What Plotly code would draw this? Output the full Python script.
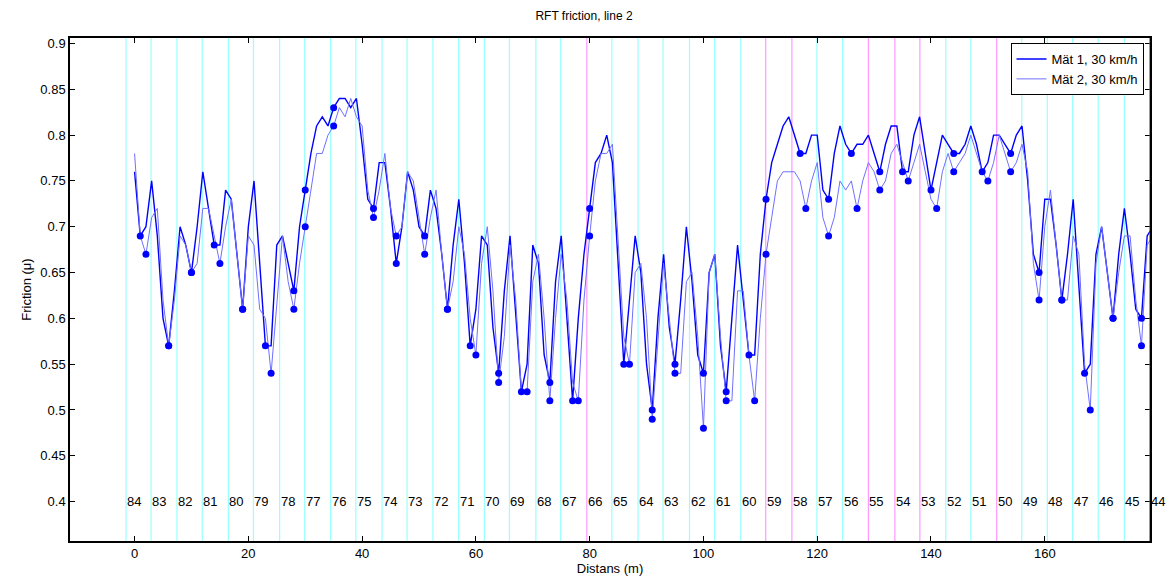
import plotly.graph_objects as go

# friction per metre, 0..179 m
dist = list(range(180))
mat1 = [0.76, 0.69, 0.70, 0.75, 0.69, 0.60, 0.57, 0.63, 0.70, 0.68,
        0.65, 0.70, 0.76, 0.72, 0.68, 0.68, 0.74, 0.73, 0.67, 0.61,
        0.70, 0.75, 0.66, 0.57, 0.57, 0.68, 0.69, 0.66, 0.63, 0.70,
        0.74, 0.78, 0.81, 0.82, 0.81, 0.83, 0.84, 0.84, 0.83, 0.84,
        0.79, 0.73, 0.72, 0.77, 0.77, 0.72, 0.66, 0.70, 0.76, 0.74,
        0.70, 0.69, 0.74, 0.72, 0.67, 0.61, 0.68, 0.73, 0.66, 0.57,
        0.61, 0.69, 0.68, 0.59, 0.54, 0.63, 0.69, 0.60, 0.52, 0.55,
        0.68, 0.66, 0.56, 0.53, 0.64, 0.69, 0.60, 0.51, 0.60, 0.67,
        0.72, 0.77, 0.78, 0.80, 0.77, 0.66, 0.55, 0.62, 0.69, 0.65,
        0.55, 0.50, 0.60, 0.67, 0.59, 0.55, 0.62, 0.70, 0.64, 0.56,
        0.54, 0.65, 0.67, 0.57, 0.52, 0.60, 0.68, 0.62, 0.56, 0.56,
        0.67, 0.73, 0.77, 0.79, 0.81, 0.82, 0.80, 0.78, 0.78, 0.80,
        0.80, 0.74, 0.73, 0.78, 0.81, 0.79, 0.78, 0.79, 0.79, 0.80,
        0.78, 0.76, 0.79, 0.81, 0.81, 0.76, 0.76, 0.80, 0.82, 0.78,
        0.74, 0.77, 0.80, 0.79, 0.78, 0.78, 0.79, 0.81, 0.79, 0.76,
        0.77, 0.80, 0.80, 0.79, 0.78, 0.80, 0.81, 0.75, 0.67, 0.65,
        0.73, 0.73, 0.68, 0.62, 0.67, 0.73, 0.64, 0.54, 0.55, 0.67,
        0.70, 0.65, 0.60, 0.67, 0.72, 0.67, 0.61, 0.60, 0.69, 0.70]
mat2 = [0.78, 0.69, 0.67, 0.71, 0.72, 0.62, 0.57, 0.62, 0.69, 0.68,
        0.65, 0.66, 0.72, 0.72, 0.69, 0.66, 0.70, 0.73, 0.67, 0.61,
        0.69, 0.68, 0.61, 0.60, 0.54, 0.62, 0.69, 0.64, 0.61, 0.66,
        0.70, 0.74, 0.78, 0.78, 0.80, 0.81, 0.83, 0.82, 0.84, 0.82,
        0.81, 0.74, 0.71, 0.74, 0.78, 0.72, 0.69, 0.70, 0.76, 0.75,
        0.71, 0.67, 0.71, 0.74, 0.67, 0.61, 0.64, 0.70, 0.67, 0.60,
        0.56, 0.66, 0.70, 0.63, 0.53, 0.58, 0.68, 0.62, 0.52, 0.52,
        0.64, 0.67, 0.60, 0.51, 0.60, 0.67, 0.62, 0.53, 0.51, 0.62,
        0.69, 0.75, 0.78, 0.78, 0.79, 0.68, 0.58, 0.55, 0.65, 0.66,
        0.60, 0.49, 0.58, 0.66, 0.60, 0.54, 0.54, 0.64, 0.65, 0.58,
        0.48, 0.65, 0.67, 0.58, 0.51, 0.51, 0.63, 0.63, 0.56, 0.51,
        0.60, 0.67, 0.71, 0.75, 0.76, 0.76, 0.76, 0.75, 0.72, 0.75,
        0.77, 0.71, 0.69, 0.71, 0.75, 0.74, 0.75, 0.72, 0.75, 0.77,
        0.76, 0.74, 0.75, 0.78, 0.79, 0.77, 0.75, 0.77, 0.79, 0.76,
        0.73, 0.72, 0.76, 0.78, 0.76, 0.77, 0.78, 0.80, 0.78, 0.76,
        0.75, 0.77, 0.80, 0.78, 0.76, 0.77, 0.79, 0.76, 0.66, 0.62,
        0.70, 0.74, 0.68, 0.62, 0.62, 0.69, 0.67, 0.55, 0.50, 0.66,
        0.70, 0.65, 0.60, 0.65, 0.69, 0.69, 0.62, 0.57, 0.68, 0.69]

# metres where each series gets a dot
dots1 = [1, 6, 10, 14, 19, 23, 28, 30, 35, 42, 46, 51, 55, 59, 64, 68, 73, 77, 80, 86,
         91, 95, 100, 104, 108, 111, 117, 122, 126, 131, 135, 140, 144, 149, 154, 159,
         163, 167, 172, 177]
dots2 = [2, 6, 10, 15, 19, 24, 28, 30, 35, 42, 46, 51, 55, 60, 64, 69, 73, 78, 80, 87,
         91, 95, 100, 104, 109, 111, 118, 122, 127, 131, 136, 141, 144, 150, 154, 159,
         163, 168, 172, 177]

# section boundaries (m) and section numbers
section_x = [-1.5, 2.9, 7.45, 11.9, 16.5, 20.9, 25.5, 29.9, 34.45, 38.9, 43.5, 47.9,
             52.45, 56.95, 61.5, 65.9, 70.55, 74.9, 79.5, 83.9, 88.5, 92.9, 97.55,
             101.95, 106.55, 110.95, 115.55, 119.95, 124.45, 129.0, 133.65, 138.05,
             142.6, 147.0, 151.55, 155.95, 160.45, 164.9, 169.4, 174.0, 178.5]
section_no = list(range(84, 43, -1))
pink_sections = [66, 59, 58, 55, 54, 53, 50]

fig = go.Figure()
fig.add_trace(go.Scatter(x=dist, y=mat1, mode="lines", name="Mät 1, 30 km/h",
                         line=dict(color="#0000ff", width=1.4)))
fig.add_trace(go.Scatter(x=dist, y=mat2, mode="lines", name="Mät 2, 30 km/h",
                         line=dict(color="#7070ff", width=1)))
fig.add_trace(go.Scatter(x=dots1, y=[mat1[i] for i in dots1], mode="markers",
                         marker=dict(color="#0000ff", size=7), showlegend=False))
fig.add_trace(go.Scatter(x=dots2, y=[mat2[i] for i in dots2], mode="markers",
                         marker=dict(color="#0000ff", size=7), showlegend=False))

for sx, no in zip(section_x, section_no):
    col = "#ff99ff" if no in pink_sections else "#99ffff"
    if no == 44:
        col = "#007a7a"
    fig.add_shape(type="line", x0=sx, x1=sx, y0=0, y1=1, xref="x", yref="paper",
                  line=dict(color=col, width=1.2), layer="below" if no != 44 else "above")
    fig.add_annotation(x=sx, y=0.4, text=str(no), showarrow=False, xanchor="left",
                       xshift=-1, font=dict(size=13, color="black"))

axis = dict(showline=True, linecolor="black", linewidth=1.5, mirror="ticks",
            ticks="inside", ticklen=5, tickcolor="black", showgrid=False, zeroline=False,
            automargin=False, tickfont=dict(size=13, color="black"))
fig.update_xaxes(range=[-11.35, 178.5], dtick=20, tick0=0,
                 title=dict(text="Distans (m)", font=dict(size=13), standoff=4), **axis)
fig.update_yaxes(range=[0.357, 0.906], dtick=0.05, tick0=0.4,
                 title=dict(text="Friction (μ)", font=dict(size=13), standoff=6), **axis)

fig.update_layout(
    width=1168, height=585,
    margin=dict(l=70, r=18, t=38, b=44),
    paper_bgcolor="white", plot_bgcolor="white",
    font=dict(family="Liberation Sans, Arial, sans-serif", color="black"),
    title=dict(text="RFT friction, line 2", x=0.5, xanchor="center", y=0.98,
               font=dict(size=12), automargin=False),
    legend=dict(x=0.994, y=0.99, xanchor="right", yanchor="top", bgcolor="white",
                bordercolor="black", borderwidth=1, font=dict(size=13)),
)

fig.write_html("out.html", config={"displayModeBar": False},
               post_script="document.body.style.margin='0';")
